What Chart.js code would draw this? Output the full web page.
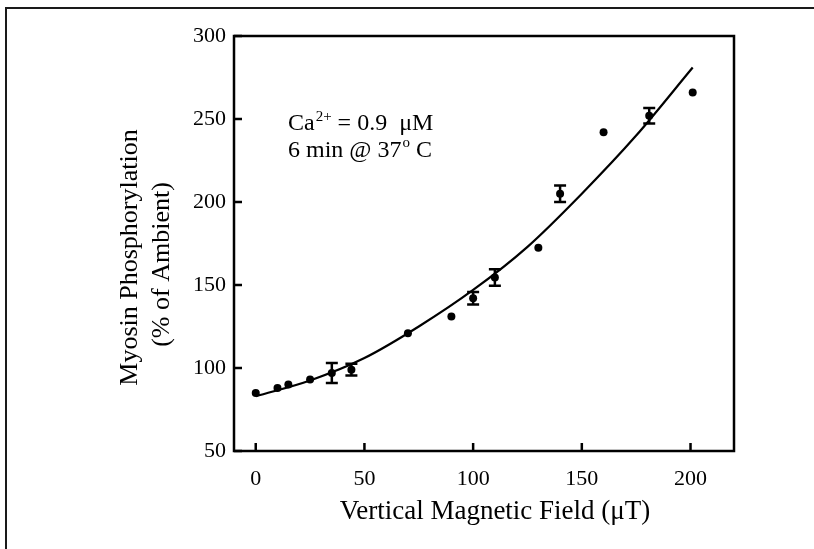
<!DOCTYPE html>
<html>
<head>
<meta charset="utf-8">
<title>Myosin Phosphorylation vs Vertical Magnetic Field</title>
<script src="https://cdn.jsdelivr.net/npm/chart.js@4.4.1/dist/chart.umd.min.js"></script>
<style>
    body { margin: 0; background: #ffffff; }
    #fieldChart { display: block; }
</style>
</head>
<body>
<canvas id="fieldChart" width="814" height="549"></canvas>
<script>
// Measured points
const fieldValues = [0, 10, 15, 25, 35, 44, 70, 90, 100, 110, 130, 140, 160, 181, 201];
const phosphoValues = [85, 88, 90, 93, 97, 99, 121, 131, 142, 154.5, 172.5, 205, 242, 252, 266];
const errorValues = [0, 0, 0, 0, 6, 3.5, 0, 0, 3.8, 5, 0, 5, 0, 4.7, 0];

// Fitted curve
const curveX = [0, 25, 50, 75, 100, 125, 150, 175, 201];
const curveY = [83, 92.5, 106, 125, 147, 173, 205, 240, 281];

// Tick labels
const xTickValues = [0, 50, 100, 150, 200];
const yTickValues = [50, 100, 150, 200, 250, 300];

// Axis titles
const xTitle = 'Vertical Magnetic Field (μT)';
const yTitleLines = ['Myosin Phosphorylation', '(% of Ambient)'];

const FONT = "'Liberation Serif', 'Times New Roman', serif";

document.addEventListener('DOMContentLoaded', function() {
    initFieldChart();
});

// Outer frame of the scanned page (top + left edge)
const pageFramePlugin = {
    id: 'pageFrame',
    beforeDraw(chart) {
        const ctx = chart.ctx;
        ctx.save();
        ctx.strokeStyle = '#1a1a1a';
        ctx.lineWidth = 2;
        ctx.beginPath();
        ctx.moveTo(6, 549);
        ctx.lineTo(6, 8);
        ctx.lineTo(814, 8);
        ctx.stroke();
        ctx.restore();
    }
};

// Box around plot, inward ticks, error bars, titles and the annotation
const plotDecorPlugin = {
    id: 'plotDecor',
    afterDatasetsDraw(chart) {
        const ctx = chart.ctx;
        const area = chart.chartArea;
        const xScale = chart.scales.x;
        const yScale = chart.scales.y;

        ctx.save();
        ctx.strokeStyle = '#000';
        ctx.lineWidth = 2.5;
        ctx.strokeRect(area.left, area.top, area.right - area.left, area.bottom - area.top);

        // inward tick marks
        ctx.beginPath();
        xTickValues.forEach(v => {
            const px = xScale.getPixelForValue(v);
            ctx.moveTo(px, area.bottom);
            ctx.lineTo(px, area.bottom - 8);
        });
        yTickValues.forEach(v => {
            const py = yScale.getPixelForValue(v);
            ctx.moveTo(area.left, py);
            ctx.lineTo(area.left + 8, py);
        });
        ctx.stroke();

        // error bars
        ctx.beginPath();
        fieldValues.forEach((xv, i) => {
            const err = errorValues[i];
            if (!err) return;
            const px = xScale.getPixelForValue(xv);
            const top = yScale.getPixelForValue(phosphoValues[i] + err);
            const bottom = yScale.getPixelForValue(phosphoValues[i] - err);
            ctx.moveTo(px, top);
            ctx.lineTo(px, bottom);
            ctx.moveTo(px - 6, top);
            ctx.lineTo(px + 6, top);
            ctx.moveTo(px - 6, bottom);
            ctx.lineTo(px + 6, bottom);
        });
        ctx.stroke();

        ctx.fillStyle = '#000';

        // x axis title
        ctx.font = '27px ' + FONT;
        ctx.textAlign = 'center';
        ctx.textBaseline = 'middle';
        ctx.fillText(xTitle, (area.left + area.right) / 2 + 11, area.bottom + 61);

        // y axis title (two rotated lines)
        const midY = (area.top + area.bottom) / 2;
        ctx.font = '26px ' + FONT;
        [[area.left - 104, midY + 14], [area.left - 72, midY + 21]].forEach((pos, i) => {
            ctx.save();
            ctx.translate(pos[0], pos[1]);
            ctx.rotate(-Math.PI / 2);
            ctx.fillText(yTitleLines[i], 0, 0);
            ctx.restore();
        });

        // annotation text
        const baseX = area.left + 54;
        const line1 = area.top + 94;
        const line2 = line1 + 27;
        ctx.textBaseline = 'alphabetic';
        ctx.textAlign = 'left';

        let x = baseX;
        ctx.font = '24px ' + FONT;
        ctx.fillText('Ca', x, line1);
        x += ctx.measureText('Ca').width + 1;
        ctx.font = '15px ' + FONT;
        ctx.fillText('2+', x, line1 - 9);
        x += ctx.measureText('2+').width;
        ctx.font = '24px ' + FONT;
        ctx.fillText(' = 0.9  μM', x, line1);

        x = baseX;
        ctx.fillText('6 min @ 37', x, line2);
        x += ctx.measureText('6 min @ 37').width + 1;
        ctx.font = '15px ' + FONT;
        ctx.fillText('o', x, line2 - 10);
        x += ctx.measureText('o').width;
        ctx.font = '24px ' + FONT;
        ctx.fillText(' C', x, line2);
        ctx.restore();
    }
};

// Initialize the chart
function initFieldChart() {
    const points = fieldValues.map((v, i) => ({ x: v, y: phosphoValues[i] }));
    const curve = curveX.map((v, i) => ({ x: v, y: curveY[i] }));

    const ctx = document.getElementById('fieldChart').getContext('2d');
    new Chart(ctx, {
        type: 'scatter',
        data: {
            datasets: [{
                label: 'Fit',
                data: curve,
                showLine: true,
                borderColor: '#000',
                borderWidth: 2.2,
                pointRadius: 0,
                cubicInterpolationMode: 'monotone',
                fill: false
            }, {
                label: 'Measured',
                data: points,
                backgroundColor: '#000',
                borderColor: '#000',
                borderWidth: 0,
                pointRadius: 4
            }]
        },
        options: {
            responsive: false,
            animation: false,
            devicePixelRatio: 1,
            layout: {
                padding: { left: 0, right: 80, top: 36, bottom: 0 }
            },
            plugins: {
                legend: { display: false },
                tooltip: { enabled: false }
            },
            scales: {
                x: {
                    type: 'linear',
                    min: -10,
                    max: 220,
                    afterBuildTicks: scale => {
                        scale.ticks = xTickValues.map(v => ({ value: v }));
                    },
                    afterFit: scale => { scale.height = 98; },
                    grid: { display: false, drawTicks: false },
                    border: { display: false },
                    ticks: {
                        padding: 15,
                        color: '#000',
                        font: { family: FONT, size: 22 }
                    },
                    title: { display: false }
                },
                y: {
                    type: 'linear',
                    min: 50,
                    max: 300,
                    afterBuildTicks: scale => {
                        scale.ticks = yTickValues.map(v => ({ value: v }));
                    },
                    afterFit: scale => { scale.width = 234; },
                    grid: { display: false, drawTicks: false },
                    border: { display: false },
                    ticks: {
                        padding: 8,
                        color: '#000',
                        font: { family: FONT, size: 22 }
                    },
                    title: { display: false }
                }
            }
        },
        plugins: [pageFramePlugin, plotDecorPlugin]
    });
}
</script>
</body>
</html>
